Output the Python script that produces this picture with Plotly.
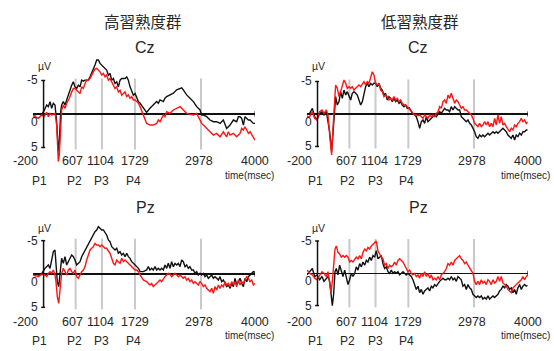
import plotly.graph_objects as go

# ---------------- data: time (ms) and amplitude (µV) ----------------
GROUPS = ["高習熟度群", "低習熟度群"]
CHANNELS = ["Cz", "Pz"]
XTICK_VALS = [-200, 607, 1104, 1729, 2978, 4000]
XTICK_TEXT = ["-200", "607", "1104", "1729", "2978", "4000"]
PEAK_LABELS = ["P1", "P2", "P3", "P4"]
PEAK_LINES = [607, 1104, 1729, 2978]

T_CZ_HIGH = [-200, -162, -99, -36, 8, 59, 90, 122, 153, 185, 216, 248, 279, 298, 324,
             342, 374, 406, 437, 488, 532, 563, 595, 626, 658, 690, 721, 753, 784, 816,
             847, 879, 910, 942, 973, 1005, 1037, 1068, 1100, 1131, 1163, 1194, 1226, 1257, 1289,
             1321, 1352, 1384, 1415, 1447, 1478, 1510, 1541, 1573, 1604, 1636, 1667, 1699, 1731, 1762,
             1794, 1826,
             1887, 1950, 2013, 2076, 2140, 2171, 2203, 2266, 2297, 2329,
             2392, 2455, 2518, 2581, 2613, 2644, 2676, 2707, 2770, 2834,
             2897, 2928, 2960, 2991, 3023, 3086, 3149, 3212, 3275, 3338,
             3401, 3464, 3496, 3528, 3591, 3654, 3685, 3717, 3748, 3780,
             3811, 3843, 3875, 3906, 3938, 3969, 4000]
CZ_HIGH_BLACK = [0.05, 0.15, -0.05, 0.05, -0.45, -1.35, -1.1, -1.85, -0.85, -1.6,
                 -1.35, 1.15, 5.6, 4.1, -0.35, -1.35, -1.85, -1.35, -2.1, -3.35,
                 -4.3, -4.8, -4.05, -3.8, -4.3, -4.05, -5.05, -4.9, -5.05, -5.05,
                 -5.05, -5.55, -6.05, -6.8, -7.3, -8.05, -8.05, -7.55, -7.3, -7.05,
                 -6.8, -6.55, -5.8, -6.05, -5.05, -5.3, -4.55, -4.8, -4.05, -5.05,
                 -5.3, -5.3, -5.3, -5.55, -5.05, -4.05, -3.55, -2.8, -3.05, -2.55,
                 -1.85, -1.6,
                 -0.85, -0.25, -0.85, -1.35, -1.85, -1.6, -2.1, -1.85, -2.35, -2.6,
                 -2.85, -3.1, -3.6, -3.8, -3.9, -3.6, -3.1, -2.85, -2.35, -1.85,
                 -1.1, -0.85, -0.6, 0.15, 0.15, 0.4, 0.9, 1.15, 1.15, 1.4,
                 0.9, 2.15, 1.9, 1.65, 0.9, 1.15, 0.4, 0.4, 0.65, 1.65,
                 0.4, 0.65, 0.9, 0.9, 1.15, 1.4, 1.4]
CZ_HIGH_RED = [0.25, 0.4, 0.65, 0.15, 0.4, -0.25, 0.4, -0.1, 0.15, 0.05,
               -0.1, 1.65, 7.1, 6.1, 0.4, -0.6, -1.35, -0.85, -1.6, -2.35,
               -3.3, -3.8, -3.8, -3.55, -3.3, -3.05, -4.05, -3.8, -4.55, -5.05,
               -5.05, -5.3, -5.8, -6.4, -6.7, -6.8, -6.55, -6.3, -5.8, -6.05,
               -5.55, -5.8, -5.05, -5.3, -4.8, -4.3, -3.8, -4.05, -3.3, -3.55,
               -2.8, -3.05, -3.3, -2.6, -2.85, -2.35, -2.6, -2.1, -2.1, -1.85,
               -1.6, -1.1,
               0.15, 1.4, 1.65, 1.65, 1.4, 0.9, 1.15, 0.15, 0.4, -0.35,
               -0.1, -0.6, -0.85, -1.1, -0.85, -0.6, -0.35, -0.1, 0.05, 0.15,
               -0.1, 0.4, 1.15, 1.4, 1.65, 2.15, 2.65, 3.15, 2.9, 3.4,
               2.65, 3.4, 2.65, 3.15, 2.9, 3.4, 3.15, 2.9, 2.15, 2.4,
               1.9, 2.4, 2.9, 2.65, 3.15, 3.65, 3.9]

T_PZ_HIGH = [-200, -162, -99, -36, 27, 59, 90, 122, 153, 185, 216, 235, 260, 286, 311,
             342, 374, 406, 437, 469, 500, 532, 563, 595, 626,
             658, 690, 721, 753, 784, 816, 847, 879, 910, 942,
             973, 1005, 1037, 1068, 1100, 1131, 1163, 1194, 1226, 1257,
             1289, 1321, 1352, 1384, 1415, 1447, 1478, 1510, 1541, 1573,
             1604, 1636, 1667, 1699, 1731, 1762, 1794, 1826,
             1887, 1950, 1982, 2013, 2045, 2076, 2108, 2140, 2171, 2203,
             2234, 2266, 2297, 2329, 2360, 2392, 2423, 2455, 2487, 2518,
             2550, 2581, 2613, 2644, 2676, 2707, 2739, 2770, 2802, 2834,
             2865, 2897, 2928, 2960, 2991, 3023, 3054, 3086, 3117, 3149,
             3181, 3212, 3244, 3275, 3307, 3338, 3370, 3401, 3433, 3464,
             3496, 3528, 3559, 3591, 3622, 3654, 3685, 3717, 3748, 3780,
             3811, 3843, 3875, 3906, 3938, 3969, 4000]
PZ_HIGH_BLACK = [0.05, -0.05, 0.15, -0.05, -0.85, -1.1, -1.35, -0.85, -2.1, -3.35,
                 -3.6, -1.35, 1.15, 1.9, -0.35,
                 -2.35, -1.6, -2.6, -1.35, -1.85, -2.35, -2.85, -2.6, -2.1, -1.35,
                 -1.6, -1.85, -2.6, -3.1, -3.35, -3.85, -4.35, -4.85, -5.35, -5.85,
                 -6.35, -6.6, -7.1, -6.85, -6.6, -6.6, -6.1, -5.85, -5.1, -4.85,
                 -4.1, -3.85, -3.6, -3.85, -3.1, -3.35, -2.85, -3.1, -2.6, -3.1,
                 -2.6, -2.35, -1.85, -1.6, -1.35, -1.1, -0.85, -0.35,
                 -0.35, -0.6, -1.1, -0.6, -0.85, -0.6, -1.1, -0.6, -0.85, -0.6,
                 -0.85, -0.6, -1.35, -0.85, -1.6, -0.85, -1.85, -1.1, -1.6, -1.35,
                 -1.6, -1.1, -2.1, -1.85, -1.1, -1.35, -0.85, -1.1, -0.6, -0.6,
                 -0.1, -0.35, 0.15, -0.1, 0.15, -0.1, 0.4, 0.15, 0.65, 0.4,
                 0.15, 0.65, 0.4, 0.65, 0.9, 0.4, 1.15, 0.9, 1.4, 1.9,
                 1.65, 2.15, 1.4, 1.9, 0.65, 1.65, 1.15, 0.65, 1.4, 1.9,
                 0.65, 1.15, 0.4, 0.15, -0.1, -0.35, -0.25]
PZ_HIGH_RED = [0.15, 0.25, 0.4, 0.05, 0.15, 0.4, -0.1, -0.35, -0.1, -0.6,
               0.15, 1.15, 3.4, 4.4, 2.15,
               -0.1, -0.85, -0.35, 0.15, -0.6, -0.85, -0.35, -0.1, -0.6, 0.4,
               0.65, 0.15, -0.35, -0.6, -1.1, -2.1, -2.85, -3.6, -3.85, -4.1,
               -4.6, -4.35, -4.35, -4.1, -4.35, -4.1, -3.85, -3.85, -3.35, -3.1,
               -2.35, -1.6, -1.35, -2.1, -1.85, -1.6, -2.35, -1.85, -2.1, -1.85,
               -1.6, -1.35, -1.1, -0.85, -0.6, -0.6, -0.35, 0.15,
               0.9, 1.15, 1.4, 1.65, 1.4, 1.9, 1.65, 1.4, 1.15, 0.9,
               1.15, 0.65, 0.4, 0.15, -0.1, 0.05, 0.4, 0.15, -0.1, 0.15,
               0.4, 0.15, 0.4, 0.65, 0.4, 0.9, 0.65, 1.15, 0.9, 1.4,
               1.15, 1.4, 1.65, 1.15, 1.4, 1.9, 1.65, 2.15, 2.4, 2.65,
               2.15, 2.9, 1.9, 2.4, 1.65, 2.15, 1.65, 1.9, 1.15, 1.65,
               1.4, 1.9, 1.15, 1.65, 1.15, 1.9, 0.9, 1.65, 1.15, 1.4,
               0.9, 0.4, 0.65, 1.15, 0.9, 1.65, 1.4]

T_RIGHT_LATE = [1849, 1880, 1912, 1944, 1976, 2007, 2039, 2071, 2102, 2134,
                2166, 2197, 2229, 2261, 2293, 2324, 2356, 2388, 2419, 2451,
                2483, 2514, 2546, 2578, 2610, 2641, 2673, 2705, 2736, 2768,
                2800, 2831, 2863, 2895, 2927, 2958, 2990, 3021, 3053, 3085,
                3117, 3148, 3180, 3212, 3244, 3275, 3307, 3339, 3370, 3402,
                3434, 3465, 3497, 3529, 3561, 3592, 3624, 3656, 3687, 3719,
                3751, 3782, 3814, 3846, 3878, 3909, 3941, 3973, 4000]

T_CZ_LOW = [-200, -149, -98, -54, -10, 41, 85, 123, 168, 200, 231, 269, 295, 326, 345,
            377, 409, 440, 472, 504, 536, 567, 599, 631, 662,
            694, 726, 757, 789, 821, 853, 884, 916, 948, 979,
            1011, 1043, 1074, 1106, 1138, 1170, 1201, 1233, 1265, 1296,
            1328, 1360, 1391, 1423, 1455, 1487, 1518, 1550, 1582, 1613,
            1645, 1677, 1708, 1740, 1772, 1804] + T_RIGHT_LATE
CZ_LOW_BLACK = [0.15, -0.1, -0.87, 0.41, 0.92, -0.1, -0.36, 0.15, -0.36, 1.44,
                2.72, 5.79, 2.72, -1.9, -2.67,
                -1.38, -1.9, -3.44, -2.41, -3.69, -2.92, -3.44, -2.67, -2.15, -3.18,
                -3.44, -3.18, -2.92, -2.15, -1.38, -1.9, -3.18, -4.21, -4.72, -4.21,
                -4.72, -4.46, -4.72, -4.72, -4.21, -4.72, -3.95, -3.69, -2.92, -3.18,
                -2.15, -2.67, -2.41, -1.9, -2.41, -1.9, -2.15, -1.64, -1.9, -1.38,
                -1.13, -1.38, -0.87, -0.97, -0.62, -0.1,
                0.15, 0.41, 1.18, 2.2, 1.18, 0.92, 1.44, 0.41, 1.18, 0.92,
                0.67, 0.41, 0.15, 0.41, -0.1, -0.36, -0.1, -0.62, -0.87, -0.62,
                -0.62, -0.36, -1.13, -0.62, -1.13, -0.87, -0.62, -0.62, 0.41, 0.67,
                0.92, 1.18, 0.92, 1.44, 1.69, 2.2, 2.72, 3.49, 3.74, 3.23,
                3.49, 3.23, 3.49, 3.23, 2.97, 3.23, 2.97, 2.72, 2.97, 2.72,
                2.97, 2.72, 2.46, 2.2, 2.46, 2.72, 3.23, 3.49, 3.74, 3.23,
                4.0, 3.23, 3.49, 2.97, 3.23, 2.72, 2.72, 2.46, 2.46]
CZ_LOW_RED = [0.41, 0.41, -0.36, 0.67, 0.92, -0.36, -0.62, -0.1, -0.62, 0.15,
              3.23, 6.31, 2.2, -3.44, -4.46,
              -3.95, -2.67, -3.44, -4.21, -5.23, -4.72, -3.95, -4.21, -3.95, -4.21,
              -3.69, -3.95, -4.21, -4.46, -4.21, -4.72, -4.97, -4.46, -4.97, -4.72,
              -5.74, -6.51, -6.0, -4.72, -4.46, -4.72, -3.69, -3.44, -2.67, -2.92,
              -2.67, -2.15, -2.41, -2.15, -2.67, -2.15, -2.41, -1.9, -2.15, -1.64,
              -1.38, -1.38, -1.13, -0.87, -0.62, -0.36,
              0.15, 0.15, 0.26, 0.15, 0.41, 0.67, 0.15, 0.41, 0.67, 0.15,
              0.41, 0.15, 0.41, -0.1, -0.36, -1.13, -0.87, -1.9, -2.15, -1.64,
              -2.92, -2.41, -3.18, -2.41, -1.64, -2.15, -1.9, -1.38, -0.87, -1.13,
              -0.62, -0.62, -0.36, -0.1, 0.15, 0.67, 1.44, 1.69, 1.95, 1.44,
              1.95, 1.69, 1.18, 1.69, 1.18, 1.95, 1.44, 1.95, 0.67, 1.69,
              0.15, 1.44, 0.41, 1.69, 1.44, 1.95, 2.46, 2.72, 2.2, 2.46,
              1.69, 1.95, 1.44, 1.18, 0.67, 1.18, 0.92, 1.44, 1.18]

T_PZ_LOW = [-200, -149, -98, -54, -10, 41, 85, 123, 168, 200, 231, 257, 282, 307, 333,
            358, 390, 421, 453, 485, 517, 548, 580, 612, 643,
            675, 707, 738, 770, 802, 834, 865, 897, 929, 960,
            992, 1024, 1056, 1087, 1119, 1151, 1182, 1214, 1246, 1277,
            1309, 1341, 1372, 1404, 1436, 1467, 1499, 1531, 1563, 1594,
            1626, 1658, 1689, 1721, 1753, 1784, 1816] + T_RIGHT_LATE
PZ_LOW_BLACK = [0.25, -0.25, -0.75, 0.5, 0.25, 1.0, 0.5, 1.25, 0.75, 0.5,
                1.25, 3.0, 5.0, 3.25, -0.25,
                -0.75, 0.25, -1.25, -0.25, 0.5, -0.5, 0.5, 1.75, 1.0, 0.0,
                0.5, 0.0, -1.0, -0.5, -1.5, -1.0, -1.75, -1.25, -2.0, -1.75,
                -2.5, -2.0, -2.75, -2.5, -3.5, -2.25, -2.5, -2.75, -1.5, -0.75,
                -1.0, -0.25, 0.0, -0.5, 0.0, -0.25, 0.0, -0.25, 0.25, 0.0,
                -0.25, 0.0, 0.25, 0.0, 0.25, 0.5, 1.0,
                1.75, 2.5, 2.0, 3.0, 2.5, 3.25, 2.75, 2.5, 2.25, 2.75,
                2.0, 2.25, 1.75, 2.0, 1.5, 1.25, 1.0, 0.75, 1.0, 1.0,
                0.75, 1.0, 0.5, 1.0, 0.75, 1.25, 0.5, 0.75, 1.0, 2.0,
                1.75, 2.5, 1.75, 2.25, 2.5, 3.25, 3.5, 3.75, 3.5, 3.75,
                3.5, 4.0, 3.75, 4.0, 3.5, 4.0, 3.75, 3.5, 3.75, 3.5,
                3.25, 2.75, 2.5, 2.0, 2.25, 1.75, 2.0, 2.5, 2.25, 3.0,
                2.5, 3.25, 2.25, 1.75, 2.5, 2.0, 1.75, 2.0, 1.85]
PZ_LOW_RED = [-0.5, 0.0, 0.25, 0.75, 1.0, 0.25, -0.25, 0.0, 0.5, -0.25,
              1.75, 3.0, 1.25, -1.25, -3.75,
              -4.25, -3.25, -3.0, -2.5, -2.75, -2.5, -2.75, -2.5, -1.75, -2.0,
              -1.75, -2.25, -2.5, -2.25, -2.75, -2.25, -3.25, -3.75, -3.5, -4.0,
              -3.75, -4.25, -4.5, -4.75, -5.0, -3.5, -3.0, -2.5, -2.25, -1.25,
              -1.5, -0.75, -1.25, -1.0, -1.25, -1.75, -1.25, -2.0, -2.25, -2.0,
              -1.75, -1.25, -0.75, -0.25, -0.5, 0.0, 0.25,
              0.0, 0.5, 0.25, 0.75, 0.0, 0.5, -0.25, 0.5, 0.0, 0.75,
              0.25, 1.0, 0.75, 1.0, 0.5, 1.0, 0.25, 0.0, -0.25, -0.75,
              -1.5, -1.25, -1.75, -1.25, -2.0, -2.25, -2.5, -2.75, -2.25, -2.0,
              -1.5, -1.75, -1.25, -0.75, -0.5, 0.0, 1.25, 1.75, 1.25, 1.75,
              1.0, 1.5, 1.25, 1.75, 1.0, 1.25, 1.75, 1.0, 1.5, 1.25,
              0.5, 1.25, 0.5, 1.5, 1.75, 2.0, 2.5, 2.75, 3.0, 2.25,
              2.0, 1.75, 1.5, 1.25, 1.0, 0.5, 1.0, 0.5, 0.25]

# ---------------- layout configuration ----------------
W, H = 554, 351
BLACK = "#111111"
RED = "#ff1414"
GRAY = "#c9c9c9"
TXT = "#262626"
LAT = "Liberation Sans, Arial, sans-serif"
CJK = "Noto Sans CJK JP, sans-serif"

# pixel geometry per panel: (x_left_px, x_right_px, top_px, bottom_px, zero_px, px_per_uV)
PANELS = [
    dict(t=T_CZ_HIGH, b=CZ_HIGH_BLACK, r=CZ_HIGH_RED, xl=33, xr=255, top=58, bot=170, zero=114, s=6.7),
    dict(t=T_CZ_LOW, b=CZ_LOW_BLACK, r=CZ_LOW_RED, xl=307, xr=527.7, top=58, bot=170, zero=114, s=6.5),
    dict(t=T_PZ_HIGH, b=PZ_HIGH_BLACK, r=PZ_HIGH_RED, xl=33, xr=255, top=218, bot=330, zero=274, s=6.67),
    dict(t=T_PZ_LOW, b=PZ_LOW_BLACK, r=PZ_LOW_RED, xl=307, xr=527.7, top=218, bot=330, zero=273.3, s=6.45),
]

for p in PANELS:
    if not (len(p["t"]) == len(p["b"]) == len(p["r"])):
        raise ValueError(f"length mismatch {len(p['t'])} {len(p['b'])} {len(p['r'])}")

fig = go.Figure()
layout = dict(width=W, height=H, margin=dict(l=0, r=0, t=0, b=0),
              paper_bgcolor="white", plot_bgcolor="rgba(0,0,0,0)",
              showlegend=False)
shapes, annots = [], []


def py(px):
    return 1 - px / H


for i, p in enumerate(PANELS):
    k = "" if i == 0 else str(i + 1)
    xa, ya = "x" + k, "y" + k
    layout["xaxis" + k] = dict(domain=[p["xl"] / W, p["xr"] / W], range=[-200, 4000],
                               showgrid=False, zeroline=False, showticklabels=False,
                               showline=False, ticks="", anchor=ya, fixedrange=True)
    layout["yaxis" + k] = dict(domain=[py(p["bot"]), py(p["top"])],
                               range=[(p["bot"] - p["zero"]) / p["s"], (p["top"] - p["zero"]) / p["s"]],
                               showgrid=False, zeroline=True, zerolinecolor=BLACK, zerolinewidth=1.2,
                               showticklabels=False, showline=False, ticks="", anchor=xa, fixedrange=True)
    # gray reference lines
    for xv in PEAK_LINES:
        shapes.append(dict(type="line", xref=xa, yref=ya, x0=xv, x1=xv, y0=-5.3, y1=5.3,
                           line=dict(color=GRAY, width=2), layer="below"))
    # y axis (0 ms) with ticks
    shapes.append(dict(type="line", xref=xa, yref=ya, x0=0, x1=0, y0=-5, y1=5,
                       line=dict(color=BLACK, width=1.5)))
    for yv in (-5, 5):
        shapes.append(dict(type="line", xref=xa, yref=ya, x0=-45, x1=30, y0=yv, y1=yv,
                           line=dict(color=BLACK, width=1.5)))
    shapes.append(dict(type="line", xref=xa, yref=ya, x0=4000, x1=4000, y0=-0.4, y1=0.4,
                       line=dict(color=BLACK, width=1)))

    fig.add_trace(go.Scatter(x=p["t"], y=p["b"], mode="lines", xaxis=xa, yaxis=ya,
                             line=dict(color=BLACK, width=1.4), hoverinfo="skip"))
    fig.add_trace(go.Scatter(x=p["t"], y=p["r"], mode="lines", xaxis=xa, yaxis=ya,
                             line=dict(color=RED, width=1.4), hoverinfo="skip"))

    # y tick labels
    for lab, yv, ys in (("-5", -5, 0), ("0", 0, -8), ("5", 5, 0)):
        annots.append(dict(text=lab, xref=xa, yref=ya, x=-75, y=yv, yshift=ys,
                           xanchor="right", yanchor="middle", showarrow=False,
                           font=dict(family=LAT, size=12, color=TXT)))
    # µV
    annots.append(dict(text="µV", xref=xa, yref="paper", x=10,
                       y=py(p["top"] + (8 if i < 2 else 9.5)), xanchor="center", yanchor="middle",
                       showarrow=False, font=dict(family=LAT, size=10.5, color=TXT)))
    # x tick labels
    tick_px = p["bot"] - 9 if i < 2 else p["bot"] - 8.3
    shifts = [-8, -3, -1, 0, -2, 0]
    for xv, lab, sh in zip(XTICK_VALS, XTICK_TEXT, shifts):
        annots.append(dict(text=lab, xref=xa, yref="paper", x=xv, xshift=sh, y=py(tick_px),
                           xanchor="center", yanchor="middle", showarrow=False,
                           font=dict(family=LAT, size=12.5, color=TXT)))
    annots.append(dict(text="time(msec)", xref=xa, yref="paper", x=3900 if i % 2 == 0 else 3950,
                       y=py(tick_px + 14), xanchor="center", yanchor="middle", showarrow=False,
                       font=dict(family=LAT, size=10, color=TXT)))
    peak_x = [-85, 576, 1087, 1692] if i % 2 == 0 else [-30, 571, 1094, 1694]
    for xv, lab in zip(peak_x, PEAK_LABELS):
        annots.append(dict(text=lab, xref=xa, yref="paper", x=xv, y=py(tick_px + 19.5),
                           xanchor="center", yanchor="middle", showarrow=False,
                           font=dict(family=LAT, size=12, color=TXT)))
    # channel title
    annots.append(dict(text=CHANNELS[i // 2], xref="paper", yref="paper",
                       x=(145 if i % 2 == 0 else 418) / W, y=py(47.5 if i < 2 else 207.5),
                       xanchor="center", yanchor="middle", showarrow=False,
                       font=dict(family=LAT, size=16, color=TXT)))

for j, g in enumerate(GROUPS):
    annots.append(dict(text=g, xref="paper", yref="paper", x=(143 if j == 0 else 420) / W,
                       y=py(21), xanchor="center", yanchor="middle", showarrow=False,
                       font=dict(family=CJK, size=15.5, color=TXT)))

layout["shapes"] = shapes
layout["annotations"] = annots
fig.update_layout(**layout)
fig.write_html("out.html", config={"displayModeBar": False, "staticPlot": True},
               post_script="document.body.style.margin='0';document.body.style.overflow='hidden';")
